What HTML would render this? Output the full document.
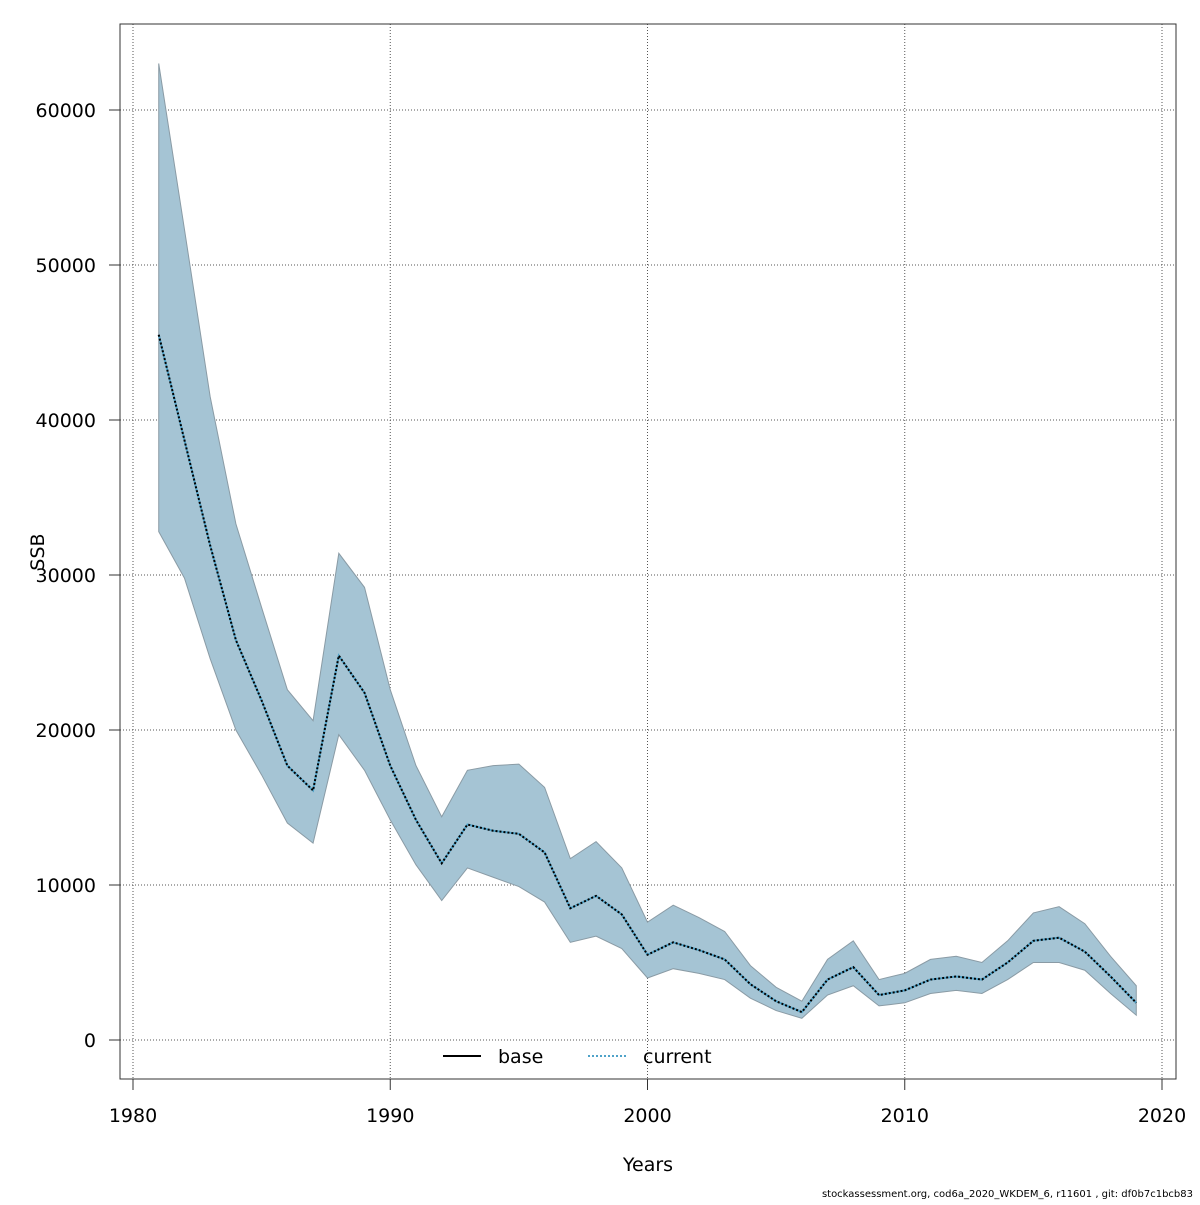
<!DOCTYPE html>
<html><head><meta charset="utf-8"><style>
body{margin:0;background:#fff}
svg text{font-family:"DejaVu Sans","Liberation Sans",sans-serif}
</style></head><body>
<svg id="chart" width="1200" height="1200" xmlns="http://www.w3.org/2000/svg">
<rect width="1200" height="1200" fill="#fff"/>
<g id="grid"></g>
<g id="band"></g>
<g id="lines"></g>
<rect x="120" y="24" width="1056" height="1055" fill="none" stroke="#333" stroke-width="1"/>
<g id="axes"></g>
<text x="648" y="1171" font-size="19" text-anchor="middle">Years</text>
<text transform="translate(44,552) rotate(-90)" font-size="19" text-anchor="middle">SSB</text>
<g>
<line x1="443" y1="1056" x2="481" y2="1056" stroke="#000" stroke-width="2"/>
<text x="498" y="1063" font-size="19">base</text>
<line x1="588" y1="1056" x2="626" y2="1056" stroke="#4fa3c9" stroke-width="2" stroke-dasharray="2,2"/>
<text x="643" y="1063" font-size="19">current</text>
</g>
<text x="1193" y="1197" font-size="10" text-anchor="end">stockassessment.org, cod6a_2020_WKDEM_6, r11601 , git: df0b7c1bcb83</text>
</svg>
<script>
const years=[1981,1982,1983,1984,1985,1986,1987,1988,1989,1990,1991,1992,1993,1994,1995,1996,1997,1998,1999,2000,2001,2002,2003,2004,2005,2006,2007,2008,2009,2010,2011,2012,2013,2014,2015,2016,2017,2018,2019];
const ssb=[45500,38700,31900,25800,21900,17700,16100,24800,22400,17700,14200,11400,13900,13500,13300,12100,8500,9300,8100,5500,6300,5800,5200,3600,2500,1800,3900,4700,2900,3200,3900,4100,3900,5000,6400,6600,5700,4100,2400];
const upper=[63000,52300,41500,33300,27900,22600,20600,31400,29200,22600,17700,14400,17400,17700,17800,16300,11700,12800,11100,7600,8700,7900,7000,4800,3400,2500,5200,6400,3900,4300,5200,5400,5000,6400,8200,8600,7500,5400,3500];
const lower=[32800,29800,24600,20000,17100,14000,12700,19700,17400,14200,11300,9000,11100,10500,9900,8900,6300,6700,5900,4000,4600,4300,3900,2700,1900,1400,2900,3500,2200,2400,3000,3200,3000,3900,5000,5000,4500,3000,1600];
const xTicks=[1980,1990,2000,2010,2020];
const yTicks=[0,10000,20000,30000,40000,50000,60000];
const NS="http://www.w3.org/2000/svg";
function X(v){return 133+(v-1980)*(1162-133)/40;}
function Y(v){return 1040-v*(1040-110)/60000;}
function mk(t,a,p){const e=document.createElementNS(NS,t);for(const k in a)e.setAttribute(k,a[k]);p.appendChild(e);return e;}
const grid=document.getElementById('grid'),axes=document.getElementById('axes');
xTicks.forEach(t=>{
 const g=mk('line',{x1:X(t),x2:X(t),y1:24,y2:1079,stroke:'#555','stroke-dasharray':'1,2','stroke-width':1},grid);
 
 
 const tk=mk('line',{x1:X(t),x2:X(t),y1:1079,y2:1090,stroke:'#333'},axes);
 
 
 const l=mk('text',{x:X(t),y:1122,'font-size':19,'text-anchor':'middle'},axes);l.textContent=t;
 
 
});
yTicks.forEach(t=>{
 const g=mk('line',{x1:120,x2:1176,y1:Y(t),y2:Y(t),stroke:'#555','stroke-dasharray':'1,2','stroke-width':1},grid);
 
 
 const tk=mk('line',{x1:109,x2:120,y1:Y(t),y2:Y(t),stroke:'#333'},axes);
 
 
 const l=mk('text',{x:96,y:Y(t)+7,'font-size':19,'text-anchor':'end'},axes);l.textContent=t;
 
 
});
let d='';
years.forEach((yr,i)=>{d+=(i?'L':'M')+X(yr)+','+Y(upper[i]);});
for(let i=years.length-1;i>=0;i--)d+='L'+X(years[i])+','+Y(lower[i]);
const band=mk('path',{d:d+'Z',fill:'#a5c4d4',stroke:'#8a9ba5','stroke-width':1},document.getElementById('band'));


const pts=years.map((yr,i)=>X(yr)+','+Y(ssb[i])).join(' ');
const lc=mk('polyline',{points:pts,fill:'none',stroke:'#4fa3c9','stroke-width':2},document.getElementById('lines'));


const lb=mk('polyline',{points:pts,fill:'none',stroke:'#000','stroke-width':2,'stroke-dasharray':'2,2'},document.getElementById('lines'));


</script>
</body></html>
